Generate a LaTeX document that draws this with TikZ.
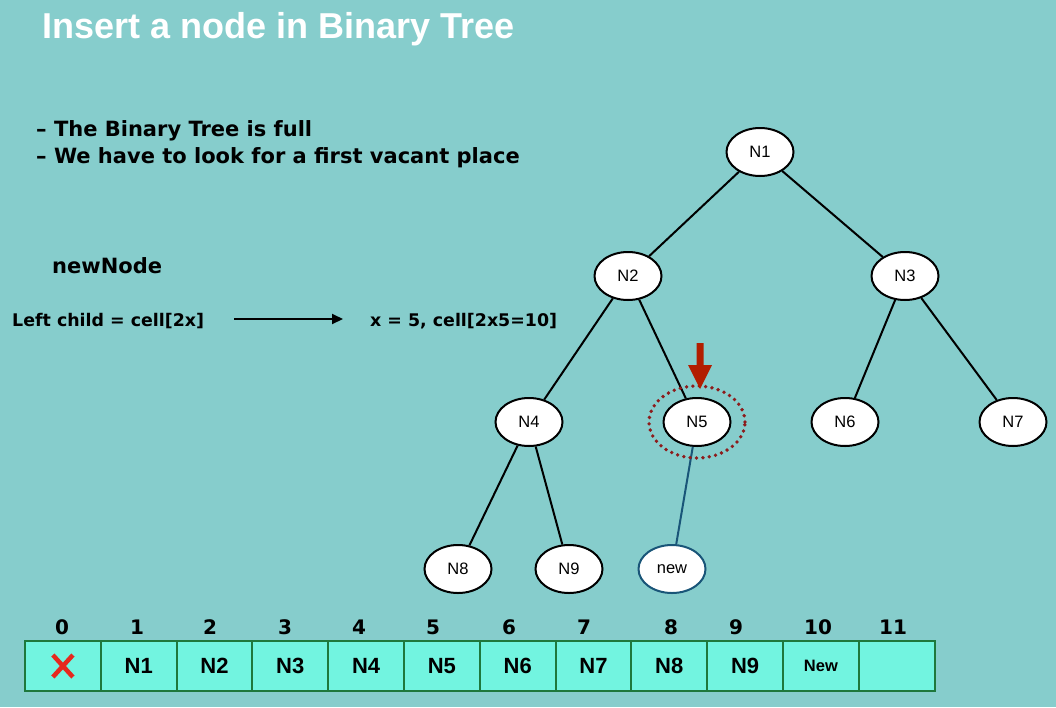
\documentclass[tikz,border=0pt]{standalone}
\usepackage{fontspec}
\setmainfont{Liberation Sans}
\newfontfamily\lucid{DejaVu Sans}
\newfontfamily\helv{Liberation Sans}
\usetikzlibrary{shapes.geometric,arrows.meta}

\definecolor{bg}{RGB}{134,205,204}
\definecolor{cellfill}{RGB}{114,244,224}
\definecolor{cellline}{RGB}{30,120,60}
\definecolor{arrowred}{RGB}{178,30,0}
\definecolor{dotred}{RGB}{140,28,28}
\definecolor{edgeblue}{RGB}{25,85,120}
\definecolor{crossred}{RGB}{230,40,30}

\begin{document}
\begin{tikzpicture}[x=1pt,y=-1pt,
  tnode/.style={ellipse, draw=black, line width=2pt, fill=white,
    minimum width=67pt, minimum height=48pt, inner sep=0pt,
    font=\helv\fontsize{16.5}{16.5}\selectfont},
  tedge/.style={line width=2pt, black},
  cell/.style={rectangle, draw=cellline, fill=cellfill, line width=2pt,
    minimum width=75.8pt, minimum height=50pt, inner sep=0pt, anchor=west,
    font=\helv\bfseries\fontsize{22}{22}\selectfont},
  idx/.style={anchor=base, font=\lucid\bfseries\fontsize{20}{20}\selectfont},
  bodytext/.style={anchor=base west, inner sep=0pt}
]
% canvas
\fill[bg] (0,0) rectangle (1056,707);
\useasboundingbox (0,0) rectangle (1056,707);

% heading and notes
\node[bodytext, text=white, font=\helv\bfseries\fontsize{36}{36}\selectfont] (title) at (42,38) {Insert a node in Binary Tree};
\node[bodytext, font=\lucid\bfseries\fontsize{21}{21}\selectfont] (b1) at (36,136) {– The Binary Tree is full};
\node[bodytext, font=\lucid\bfseries\fontsize{21}{21}\selectfont] (b2) at (36,163) {– We have to look for a first vacant place};
\node[bodytext, font=\lucid\bfseries\fontsize{21}{21}\selectfont] (nn) at (52,273) {newNode};
\node[bodytext, font=\lucid\bfseries\fontsize{17.4}{17.4}\selectfont] (lc) at (12,326) {Left child = cell[2x]};
\node[bodytext, font=\lucid\bfseries\fontsize{17.4}{17.4}\selectfont] (xv) at (370,326) {x = 5, cell[2x5=10]};
\coordinate (as) at (234,319);
\coordinate (ae) at (343,319);
\draw[line width=2pt, -{Triangle[length=11pt,width=10pt]}] (as) -- (ae);

% tree
\node[tnode] (N1) at (760,152) {N1};
\node[tnode] (N2) at (628,276) {N2};
\node[tnode] (N3) at (905,276) {N3};
\node[tnode] (N4) at (529,422) {N4};
\node[tnode] (N5) at (697,422) {N5};
\node[tnode] (N6) at (845,422) {N6};
\node[tnode] (N7) at (1013,422) {N7};
\node[tnode] (N8) at (458,569) {N8};
\node[tnode] (N9) at (569,569) {N9};
\node[tnode, draw=edgeblue] (NEW) at (672,569) {new};

\draw[tedge] (N1) -- (N2);
\draw[tedge] (N1) -- (N3);
\draw[tedge] (N2) -- (N4);
\draw[tedge] (N2) -- (N5);
\draw[tedge] (N3) -- (N6);
\draw[tedge] (N3) -- (N7);
\draw[tedge] (N4) -- (N8);
\draw[tedge] (N4) -- (N9);
\draw[tedge, edgeblue] (N5) -- (NEW);

% highlight of the parent slot
\draw[dotred, line width=3.8pt, line cap=round, dash pattern=on 0pt off 6.4pt]
  (697,422) ellipse [x radius=48pt, y radius=36pt];
\fill[arrowred] (696.5,343) -- (703.5,343) -- (703.5,365) -- (712,365) -- (700,389)
  -- (688,365) -- (696.5,365) -- cycle;

% array of cells
\foreach \i/\t in {0/,1/N1,2/N2,3/N3,4/N4,5/N5,6/N6,7/N7,8/N8,9/N9,10/,11/}{
  \node[cell] (c\i) at ({24+75.8*\i},666) {\t};
}
\node[font=\helv\bfseries\fontsize{16.5}{16.5}\selectfont] (cnew) at (c10.center) {New};
\draw[crossred, line width=4.5pt] ([shift={(-10,-11)}]c0.center) -- ([shift={(10,11)}]c0.center);
\draw[crossred, line width=4.5pt] ([shift={(10,-11)}]c0.center) -- ([shift={(-10,11)}]c0.center);

\foreach \i/\x in {0/62,1/137,2/210,3/285,4/359,5/433,6/509,7/584,8/671,9/736,10/818,11/893}{
  \node[idx] (i\i) at (\x,634) {\i};
}
\end{tikzpicture}
\end{document}
